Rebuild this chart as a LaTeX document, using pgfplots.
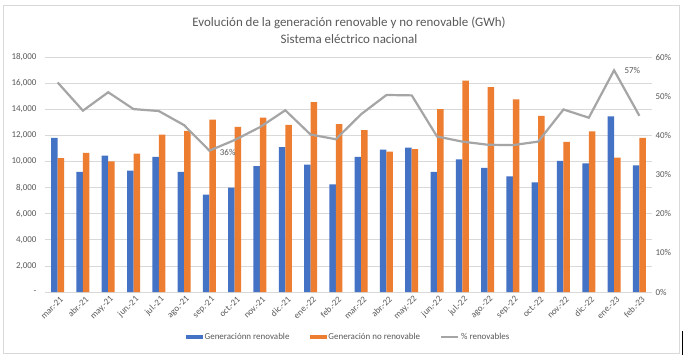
\documentclass[border=0pt]{standalone}
\usepackage{pgfplots}
\pgfplotsset{compat=1.18}
\usepackage{pgfplotstable}
\usepackage{fontspec}
\setmainfont{Carlito}
\definecolor{cblue}{HTML}{4472C4}
\definecolor{corange}{HTML}{ED7D31}
\definecolor{cgray}{HTML}{A5A5A5}
\definecolor{ctext}{HTML}{595959}
\definecolor{cgrid}{HTML}{D9D9D9}
\pgfplotstableread{
idx ren nren pct
0 11800 10250 53.5
1 9200 10650 46.3
2 10450 10000 51.0
3 9300 10600 46.7
4 10350 12050 46.2
5 9200 12350 42.6
6 7450 13200 36.1
7 8000 12650 38.8
8 9650 13350 42.1
9 11100 12800 46.4
10 9750 14550 40.2
11 8250 12850 39.0
12 10350 12400 45.4
13 10900 10750 50.3
14 11050 10950 50.2
15 9200 14000 39.7
16 10150 16200 38.4
17 9500 15700 37.6
18 8850 14750 37.5
19 8400 13500 38.4
20 10050 11500 46.6
21 9850 12300 44.5
22 13450 10300 56.6
23 9700 11800 45.0
}\datatable
\begin{document}
\begin{tikzpicture}[x=1bp,y=1bp]
\fill[white] (0,0) rectangle (685,360);
\draw[cgrid, line width=0.75bp] (3,7) rectangle (679,355);
\draw[black, line width=1bp] (682,5) -- (682,29);
\node[font=\fontsize{13}{15}\selectfont, text=ctext] at (349,337) {Evolución de la generación renovable y no renovable (GWh)};
\node[font=\fontsize{13}{15}\selectfont, text=ctext] at (349,321) {Sistema eléctrico nacional};
\begin{axis}[
  at={(45bp,68bp)}, anchor=south west, scale only axis,
  width=607bp, height=235bp,
  ybar=0pt, bar width=6.5bp,
  xmin=-0.5, xmax=23.5, ymin=0, ymax=18000,
  scaled y ticks=false,
  xtick={0,...,23},
  xticklabels={mar.-21,abr.-21,may.-21,jun.-21,jul.-21,ago.-21,sep.-21,oct.-21,nov.-21,dic.-21,ene.-22,feb.-22,mar.-22,abr.-22,may.-22,jun.-22,jul.-22,ago.-22,sep.-22,oct.-22,nov.-22,dic.-22,ene.-23,feb.-23},
  ytick={0,2000,...,18000},
  yticklabels={-,{2,000},{4,000},{6,000},{8,000},{10,000},{12,000},{14,000},{16,000},{18,000}},
  ymajorgrids, grid style={cgrid, line width=0.75bp},
  axis x line*=bottom, axis y line*=left,
  x axis line style={cgrid, line width=0.75bp, -},
  y axis line style={draw=none},
  major tick length=0pt,
  tick style={draw=none},
  /pgf/number format/assume math mode=true,
  yticklabel style={font=\fontsize{9}{10}\selectfont, text=ctext, xshift=-5bp},
  xticklabel style={font=\fontsize{9}{10}\selectfont, text=ctext, rotate=45, anchor=east, xshift=2bp, yshift=-7bp},
  legend style={at={(0.5,-0.19)}, anchor=center, draw=none, fill=none,
    font=\fontsize{9}{10}\selectfont, text=ctext, legend columns=3,
    /tikz/every even column/.append style={column sep=18bp}},
]
\addplot[fill=cblue, draw=none, legend image code/.code={\fill[cblue] (0bp,-2bp) rectangle (17bp,2bp);}] table[x=idx, y=ren] {\datatable};
\addlegendentry{Generaciónn renovable}
\addplot[fill=corange, draw=none, legend image code/.code={\fill[corange] (0bp,-2bp) rectangle (17bp,2bp);}] table[x=idx, y=nren] {\datatable};
\addlegendentry{Generación no renovable}
\addlegendimage{legend image code/.code={\draw[cgray, line width=2bp] (0bp,0bp) -- (17bp,0bp);}}
\addlegendentry{\% renovables}
\end{axis}
\begin{axis}[
  at={(45bp,68bp)}, anchor=south west, scale only axis,
  width=607bp, height=235bp,
  xmin=-0.5, xmax=23.5, ymin=0, ymax=60,
  axis x line=none, axis y line*=right,
  y axis line style={draw=none},
  ytick={0,10,...,60},
  yticklabels={0\%,10\%,20\%,30\%,40\%,50\%,60\%},
  major tick length=0pt, tick style={draw=none},
  /pgf/number format/assume math mode=true,
  yticklabel style={font=\fontsize{9}{10}\selectfont, text=ctext},
]
\addplot[cgray, line width=2.2bp, mark=none] table[x=idx, y=pct] {\datatable};
\node[anchor=west, font=\fontsize{9}{10}\selectfont, text=ctext, xshift=7bp, yshift=-2bp] at (axis cs:6,36.1) {36\%};
\node[anchor=west, font=\fontsize{9}{10}\selectfont, text=ctext, xshift=7bp] at (axis cs:22,56.6) {57\%};
\end{axis}
\end{tikzpicture}
\end{document}
